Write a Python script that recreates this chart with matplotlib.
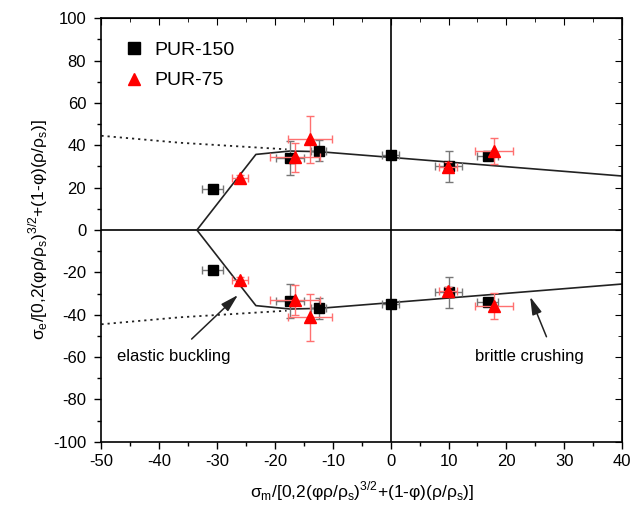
import numpy as np
import matplotlib
matplotlib.use("Agg")
import matplotlib.pyplot as plt
from matplotlib.ticker import MultipleLocator
from matplotlib.lines import Line2D

plt.rcParams["font.family"] = ["Liberation Sans", "DejaVu Sans"]
plt.rcParams["mathtext.fontset"] = "custom"
plt.rcParams["mathtext.rm"] = "Liberation Sans"
plt.rcParams["axes.unicode_minus"] = False

# PUR-150 (tension branch above zero, compression below)
pur150_x = [-30.8, -17.4, -12.4, 0.0, 10.0, 16.8]
pur150_y_up = [19.2, 33.8, 37.4, 35.4, 30.0, 34.9]
pur150_y_dn = [-18.9, -33.4, -37.0, -34.9, -29.5, -33.9]
pur150_xerr = [1.8, 2.5, 1.3, 1.5, 2.4, 1.8]
pur150_yerr = [1.5, 8.0, 5.0, 2.0, 7.3, 2.0]

# PUR-75
pur75_x = [-26.1, -16.5, -14.0, 9.9, 17.8]
pur75_y_up = [24.4, 34.3, 42.8, 29.9, 37.3]
pur75_y_dn = [-23.6, -33.0, -41.2, -28.8, -35.9]
pur75_xerr = [1.4, 4.3, 3.8, 1.5, 3.3]
pur75_yerr = [1.5, 7.0, 11.0, 2.0, 6.0]

# yield envelope (solid) and its extension (dotted)
env_x = [-33.5, -23.3, -17.4, -12.4, 0.0, 20.0, 40.0]
env_y = [0.0, 35.7, 37.3, 37.0, 34.3, 29.9, 25.5]
ext_x = [-50.0, -36.4, -18.0]
ext_y = [44.5, 41.2, 38.1]

fig = plt.figure(figsize=(6.42, 5.21), dpi=100)
ax = fig.add_axes([0.158, 0.152, 0.811, 0.813])

lw = 1.2
for sgn in (1, -1):
    ax.plot(env_x, [sgn * v for v in env_y], color="#222222", lw=lw, zorder=2)
    ax.plot(ext_x, [sgn * v for v in ext_y], color="#222222", lw=1.3,
            ls=(0, (1.2, 2.2)), zorder=2)

ax.axhline(0, color="black", lw=lw, zorder=1)
ax.axvline(0, color="black", lw=lw, zorder=1)

for ys in (pur150_y_up, pur150_y_dn):
    ax.errorbar(pur150_x, ys, xerr=pur150_xerr, yerr=pur150_yerr, fmt="s",
                color="black", ms=7, ecolor="#777777", elinewidth=1.0,
                capsize=3, capthick=1.0, zorder=3)
for ys in (pur75_y_up, pur75_y_dn):
    ax.errorbar(pur75_x, ys, xerr=pur75_xerr, yerr=pur75_yerr, fmt="^",
                color="#ff0000", ms=8, ecolor="#ff7070", elinewidth=1.0,
                capsize=3, capthick=1.0, zorder=4)

arrow = dict(arrowstyle="-|>,head_length=0.9,head_width=0.25",
             color="#222222", lw=1.1, shrinkA=7, shrinkB=0)
ax.annotate("elastic buckling", xy=(-26.4, -30.7), xytext=(-37.5, -59.5),
            ha="center", va="center", fontsize=12, arrowprops=arrow)
ax.annotate("brittle crushing", xy=(24.1, -31.5), xytext=(24.0, -59.5),
            ha="center", va="center", fontsize=12,
            arrowprops=dict(arrow, relpos=(0.7, 1.0)))

ax.set_xlim(-50, 40)
ax.set_ylim(-100, 100)
ax.xaxis.set_major_locator(MultipleLocator(10))
ax.xaxis.set_minor_locator(MultipleLocator(5))
ax.yaxis.set_major_locator(MultipleLocator(20))
ax.yaxis.set_minor_locator(MultipleLocator(10))
ax.tick_params(which="both", direction="out", labelsize=12, width=1.0)
ax.tick_params(which="major", length=5)
ax.tick_params(which="minor", length=3)
ax.tick_params(axis="y", which="major", pad=6)
for s in ax.spines.values():
    s.set_linewidth(lw)

# mirrored inward ticks on top and right
top = ax.secondary_xaxis("top")
top.xaxis.set_major_locator(MultipleLocator(10))
top.xaxis.set_minor_locator(MultipleLocator(5))
top.tick_params(which="both", direction="in", labeltop=False)
top.tick_params(which="major", length=5)
top.tick_params(which="minor", length=3)
right = ax.secondary_yaxis("right")
right.yaxis.set_major_locator(MultipleLocator(20))
right.yaxis.set_minor_locator(MultipleLocator(10))
right.tick_params(which="both", direction="in", labelright=False)
right.tick_params(which="major", length=5)
right.tick_params(which="minor", length=3)

ax.set_xlabel(r"σ$_\mathregular{m}$/[0,2(φρ/ρ$_\mathregular{s}$)$^\mathregular{3/2}$"
              r"+(1-φ)(ρ/ρ$_\mathregular{s}$)]", fontsize=12.5, labelpad=8)
ax.set_ylabel(r"σ$_\mathregular{e}$/[0,2(φρ/ρ$_\mathregular{s}$)$^\mathregular{3/2}$"
              r"+(1-φ)(ρ/ρ$_\mathregular{s}$)]", fontsize=12.5, labelpad=2)

handles = [Line2D([], [], ls="none", marker="s", color="black", ms=8),
           Line2D([], [], ls="none", marker="^", color="#ff0000", ms=9)]
ax.legend(handles, ["PUR-150", "PUR-75"], loc="upper left", frameon=False,
          fontsize=14, handletextpad=0.5, borderaxespad=0.8,
          labelspacing=0.65, handlelength=1.0)

fig.savefig("out.png", dpi=100)
